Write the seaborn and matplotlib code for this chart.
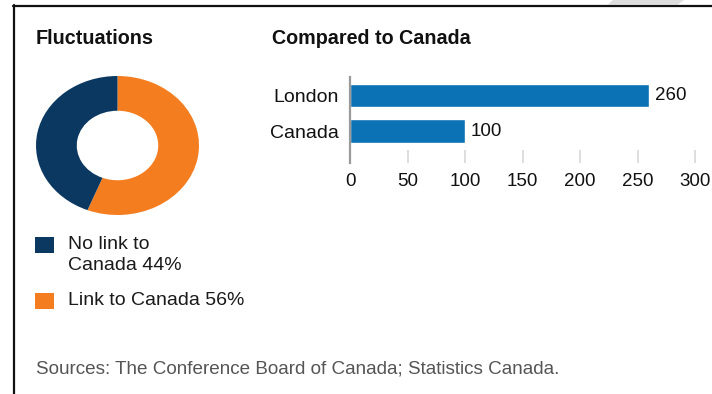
import matplotlib
matplotlib.use("Agg")
import matplotlib.pyplot as plt
from matplotlib.patches import Rectangle, Polygon
from matplotlib.lines import Line2D
import seaborn as sns
import pandas as pd

# Share of fluctuations
share_labels = ["No link to\nCanada", "Link to Canada"]
share_values = [44, 56]
share_colors = ["#0b3860", "#f47d20"]

# Index compared to Canada
regions = ["London", "Canada"]
index_values = [260, 100]
x_ticks = [0, 50, 100, 150, 200, 250, 300]

source_note = "Sources: The Conference Board of Canada; Statistics Canada."

sns.set_theme(style="white")
plt.rcParams["font.family"] = ["Liberation Sans", "DejaVu Sans"]

W, H = 712, 394
fig = plt.figure(figsize=(W / 100, H / 100), dpi=100)
fig.patch.set_facecolor("white")


def fx(px):
    return px / W


def fy(py):
    return 1 - py / H


# Page frame lines
fig.add_artist(Line2D([fx(13), fx(712)], [fy(5.5), fy(5.5)], color="#111111", lw=1.6))
fig.add_artist(Line2D([fx(13.5), fx(13.5)], [fy(5), fy(394)], color="#111111", lw=1.6))
fig.add_artist(Polygon([[fx(613), fy(0)], [fx(684), fy(0)], [fx(678), fy(4.5)], [fx(608), fy(4.5)]],
                       closed=True, facecolor="#dddddd", edgecolor="none"))

# Titles
fig.text(fx(36), fy(39), "Fluctuations", fontsize=14.2, fontweight="bold",
         color="#111111", va="center", ha="left")
fig.text(fx(272), fy(39), "Compared to Canada", fontsize=14.2, fontweight="bold",
         color="#111111", va="center", ha="left")

# Donut chart (clockwise from the top, "Link to Canada" first)
ax_pie = fig.add_axes([fx(36), fy(215), (199 - 36) / W, (215 - 76) / H])
order = [1, 0]
ax_pie.pie([share_values[i] for i in order],
           colors=[share_colors[i] for i in order],
           startangle=90, counterclock=False,
           wedgeprops=dict(width=0.5, edgecolor="none"))
ax_pie.set_aspect("auto")
ax_pie.set_xlim(-1, 1)
ax_pie.set_ylim(-1, 1)
ax_pie.axis("off")

# Legend
legend_rows = [237, 293]
for (lab, val, col, top) in zip(share_labels, share_values, share_colors, legend_rows):
    fig.add_artist(Rectangle((fx(35), fy(top + 16)), 19 / W, 16 / H,
                             facecolor=col, edgecolor="none"))
    fig.text(fx(68), fy(top - 1), f"{lab} {val}%", fontsize=14,
             color="#1a1a1a", va="top", ha="left", linespacing=1.32)

# Horizontal bar chart
ax = fig.add_axes([fx(350), fy(163), (695 - 350) / W, (163 - 77) / H])
df = pd.DataFrame({"region": regions, "index": index_values})
sns.barplot(data=df, x="index", y="region", orient="h", color="#0b72b5",
            saturation=1, width=0.65, ax=ax)
ax.set_xlim(0, 300)
ax.set_ylim(1.9, -0.52)
ax.set_xticks(x_ticks)
ax.set_xticklabels([str(t) for t in x_ticks])
ax.set_xlabel("")
ax.set_ylabel("")
ax.set_facecolor("none")
for side in ["top", "right", "bottom"]:
    ax.spines[side].set_visible(False)
ax.spines["left"].set_color("#9a9a9a")
ax.spines["left"].set_linewidth(1.6)
ax.tick_params(axis="x", direction="in", length=9.5, width=1.2, color="#d8d8d8",
               pad=7, labelsize=13.5, labelcolor="#111111", bottom=True)
ax.tick_params(axis="y", length=0, pad=8, labelsize=14, labelcolor="#111111")
ax.bar_label(ax.containers[0], labels=[str(v) for v in index_values],
             padding=4, fontsize=13.5, color="#111111")

# Source note
fig.text(fx(36), fy(369), source_note, fontsize=13.6, color="#555555",
         va="center", ha="left")

fig.savefig("out.png", dpi=100, facecolor="white")
